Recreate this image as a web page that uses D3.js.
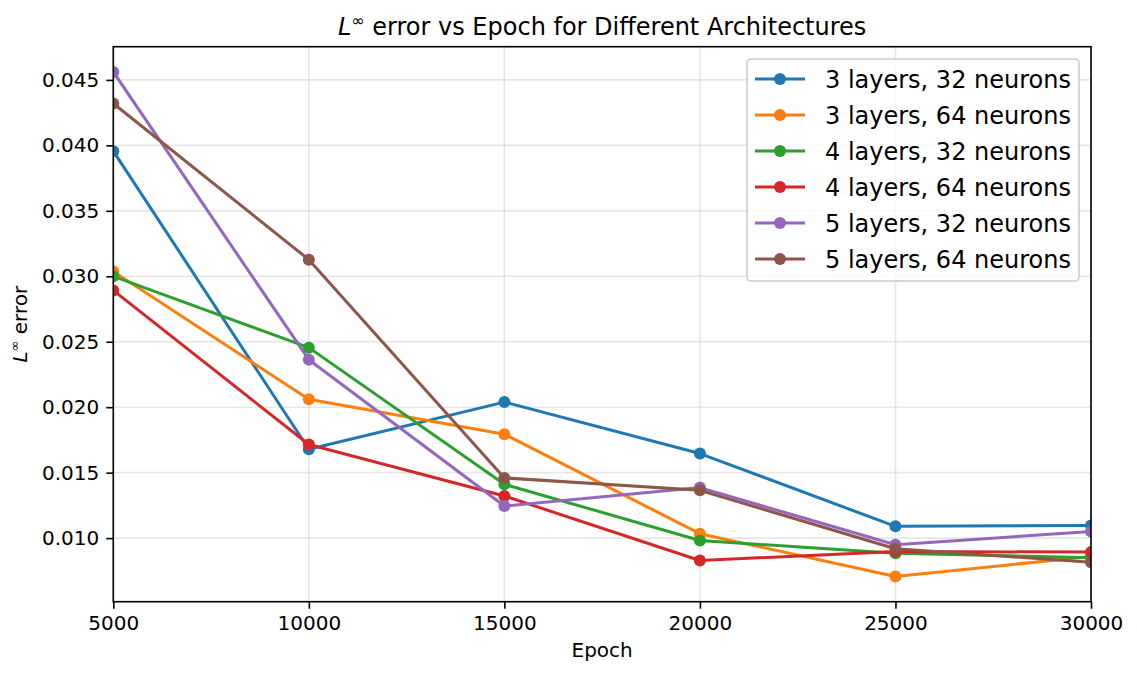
<!DOCTYPE html>
<html>
<head>
<meta charset="utf-8">
<script src="https://cdn.jsdelivr.net/npm/d3@7"></script>
<style>
  html, body { margin: 0; padding: 0; background: #fff; }
  svg { display: block; font-family: "DejaVu Sans", sans-serif; }
</style>
</head>
<body>
<svg id="chart" width="1137" height="676"></svg>
<script>
// ---- data ----
const epochs = [5000, 10000, 15000, 20000, 25000, 30000];
const seriesNames = [
  "3 layers, 32 neurons",
  "3 layers, 64 neurons",
  "4 layers, 32 neurons",
  "4 layers, 64 neurons",
  "5 layers, 32 neurons",
  "5 layers, 64 neurons"
];
const s3x32 = [0.03956, 0.01679, 0.02039, 0.01646, 0.01090, 0.01097];
const s3x64 = [0.03037, 0.02060, 0.01794, 0.01034, 0.00707, 0.00860];
const s4x32 = [0.03000, 0.02455, 0.01411, 0.00982, 0.00885, 0.00850];
const s4x64 = [0.02892, 0.01715, 0.01322, 0.00829, 0.00898, 0.00893];
const s5x32 = [0.04561, 0.02363, 0.01245, 0.01386, 0.00949, 0.01051];
const s5x64 = [0.04320, 0.03127, 0.01460, 0.01365, 0.00919, 0.00816];
const seriesValues = [s3x32, s3x64, s4x32, s4x64, s5x32, s5x64];
const colors = ["#1f77b4", "#ff7f0e", "#2ca02c", "#d62728", "#9467bd", "#8c564b"];
const xTicks = [5000, 10000, 15000, 20000, 25000, 30000];
const yTicks = [0.010, 0.015, 0.020, 0.025, 0.030, 0.035, 0.040, 0.045];

(function () {
// ---- layout ----
const svg = d3.select("#chart");
const pl = 113.3, pr = 1091, pt = 46.7, pb = 601.7;

const allVals = seriesValues.flat();
const vmin = d3.min(allVals), vmax = d3.max(allVals);
const pad = (vmax - vmin) * 0.05;
const x = d3.scaleLinear().domain([5000, 30000]).range([pl, pr]);
const y = d3.scaleLinear().domain([vmin - pad, vmax + pad]).range([pb, pt]);

// clip
svg.append("defs").append("clipPath").attr("id", "plotclip")
  .append("rect").attr("x", pl).attr("y", pt)
  .attr("width", pr - pl).attr("height", pb - pt);

// grid
const grid = svg.append("g");
grid.selectAll("line.gx").data(xTicks).enter().append("line")
  .attr("x1", d => x(d)).attr("x2", d => x(d))
  .attr("y1", pt).attr("y2", pb)
  .attr("stroke", "#b0b0b0").attr("stroke-opacity", 0.3).attr("stroke-width", 1.6);
grid.selectAll("line.gy").data(yTicks).enter().append("line")
  .attr("x1", pl).attr("x2", pr)
  .attr("y1", d => y(d)).attr("y2", d => y(d))
  .attr("stroke", "#b0b0b0").attr("stroke-opacity", 0.3).attr("stroke-width", 1.6);

// series
const plot = svg.append("g").attr("clip-path", "url(#plotclip)");
const line = d3.line().x((d, i) => x(epochs[i])).y(d => y(d));
seriesValues.forEach((vals, k) => {
  const g = plot.append("g");
  g.append("path").datum(vals).attr("d", line)
    .attr("fill", "none").attr("stroke", colors[k]).attr("stroke-width", 3)
    .attr("stroke-linejoin", "round").attr("stroke-linecap", "square");
  g.selectAll("circle").data(vals).enter().append("circle")
    .attr("cx", (d, i) => x(epochs[i])).attr("cy", d => y(d))
    .attr("r", 6).attr("fill", colors[k]);
});

// axes
const xAxis = d3.axisBottom(x).tickValues(xTicks).tickFormat(d3.format("d"))
  .tickSize(7).tickPadding(7);
const gx = svg.append("g").attr("transform", `translate(0,${pb})`).call(xAxis);
gx.select(".domain").remove();
gx.selectAll(".tick line").attr("stroke", "#000").attr("stroke-width", 1.6);
gx.selectAll(".tick text").attr("font-size", 20).attr("fill", "#000")
  .attr("font-family", "DejaVu Sans").attr("dy", "0.71em");

const yAxis = d3.axisLeft(y).tickValues(yTicks).tickFormat(d3.format(".3f"))
  .tickSize(7).tickPadding(7);
const gy = svg.append("g").attr("transform", `translate(${pl},0)`).call(yAxis);
gy.select(".domain").remove();
gy.selectAll(".tick line").attr("stroke", "#000").attr("stroke-width", 1.6);
gy.selectAll(".tick text").attr("font-size", 20).attr("fill", "#000")
  .attr("font-family", "DejaVu Sans");

// frame
svg.append("rect").attr("x", pl).attr("y", pt)
  .attr("width", pr - pl).attr("height", pb - pt)
  .attr("fill", "none").attr("stroke", "#000").attr("stroke-width", 1.6);

// title
const title = svg.append("text").attr("x", (pl + pr) / 2).attr("y", 34.5)
  .attr("text-anchor", "middle").attr("font-size", 24).attr("fill", "#000");
title.append("tspan").attr("font-style", "italic").text("L");
title.append("tspan").attr("font-size", 16).attr("dy", -9).text("∞");
title.append("tspan").attr("dy", 9).text(" error vs Epoch for Different Architectures");

// x label
svg.append("text").attr("x", (pl + pr) / 2).attr("y", 657)
  .attr("text-anchor", "middle").attr("font-size", 20).attr("fill", "#000").text("Epoch");

// y label
const yl = svg.append("text")
  .attr("transform", `translate(27,${(pt + pb) / 2}) rotate(-90)`)
  .attr("text-anchor", "middle").attr("font-size", 20).attr("fill", "#000");
yl.append("tspan").attr("font-style", "italic").text("L");
yl.append("tspan").attr("font-size", 13).attr("dy", -8).text("∞");
yl.append("tspan").attr("dy", 8).text(" error");

// legend
const lg = svg.append("g");
lg.append("rect").attr("x", 747).attr("y", 59).attr("width", 332).attr("height", 222)
  .attr("rx", 4).attr("fill", "#fff").attr("fill-opacity", 0.8)
  .attr("stroke", "#cccccc").attr("stroke-width", 1.6);
seriesNames.forEach((name, k) => {
  const cy = 79 + k * 36;
  lg.append("line").attr("x1", 755).attr("x2", 805).attr("y1", cy).attr("y2", cy)
    .attr("stroke", colors[k]).attr("stroke-width", 3);
  lg.append("circle").attr("cx", 780).attr("cy", cy).attr("r", 6).attr("fill", colors[k]);
  lg.append("text").attr("x", 825).attr("y", cy).attr("dy", "0.36em")
    .attr("font-size", 24).attr("fill", "#000").text(name);
});
})();
</script>
</body>
</html>
